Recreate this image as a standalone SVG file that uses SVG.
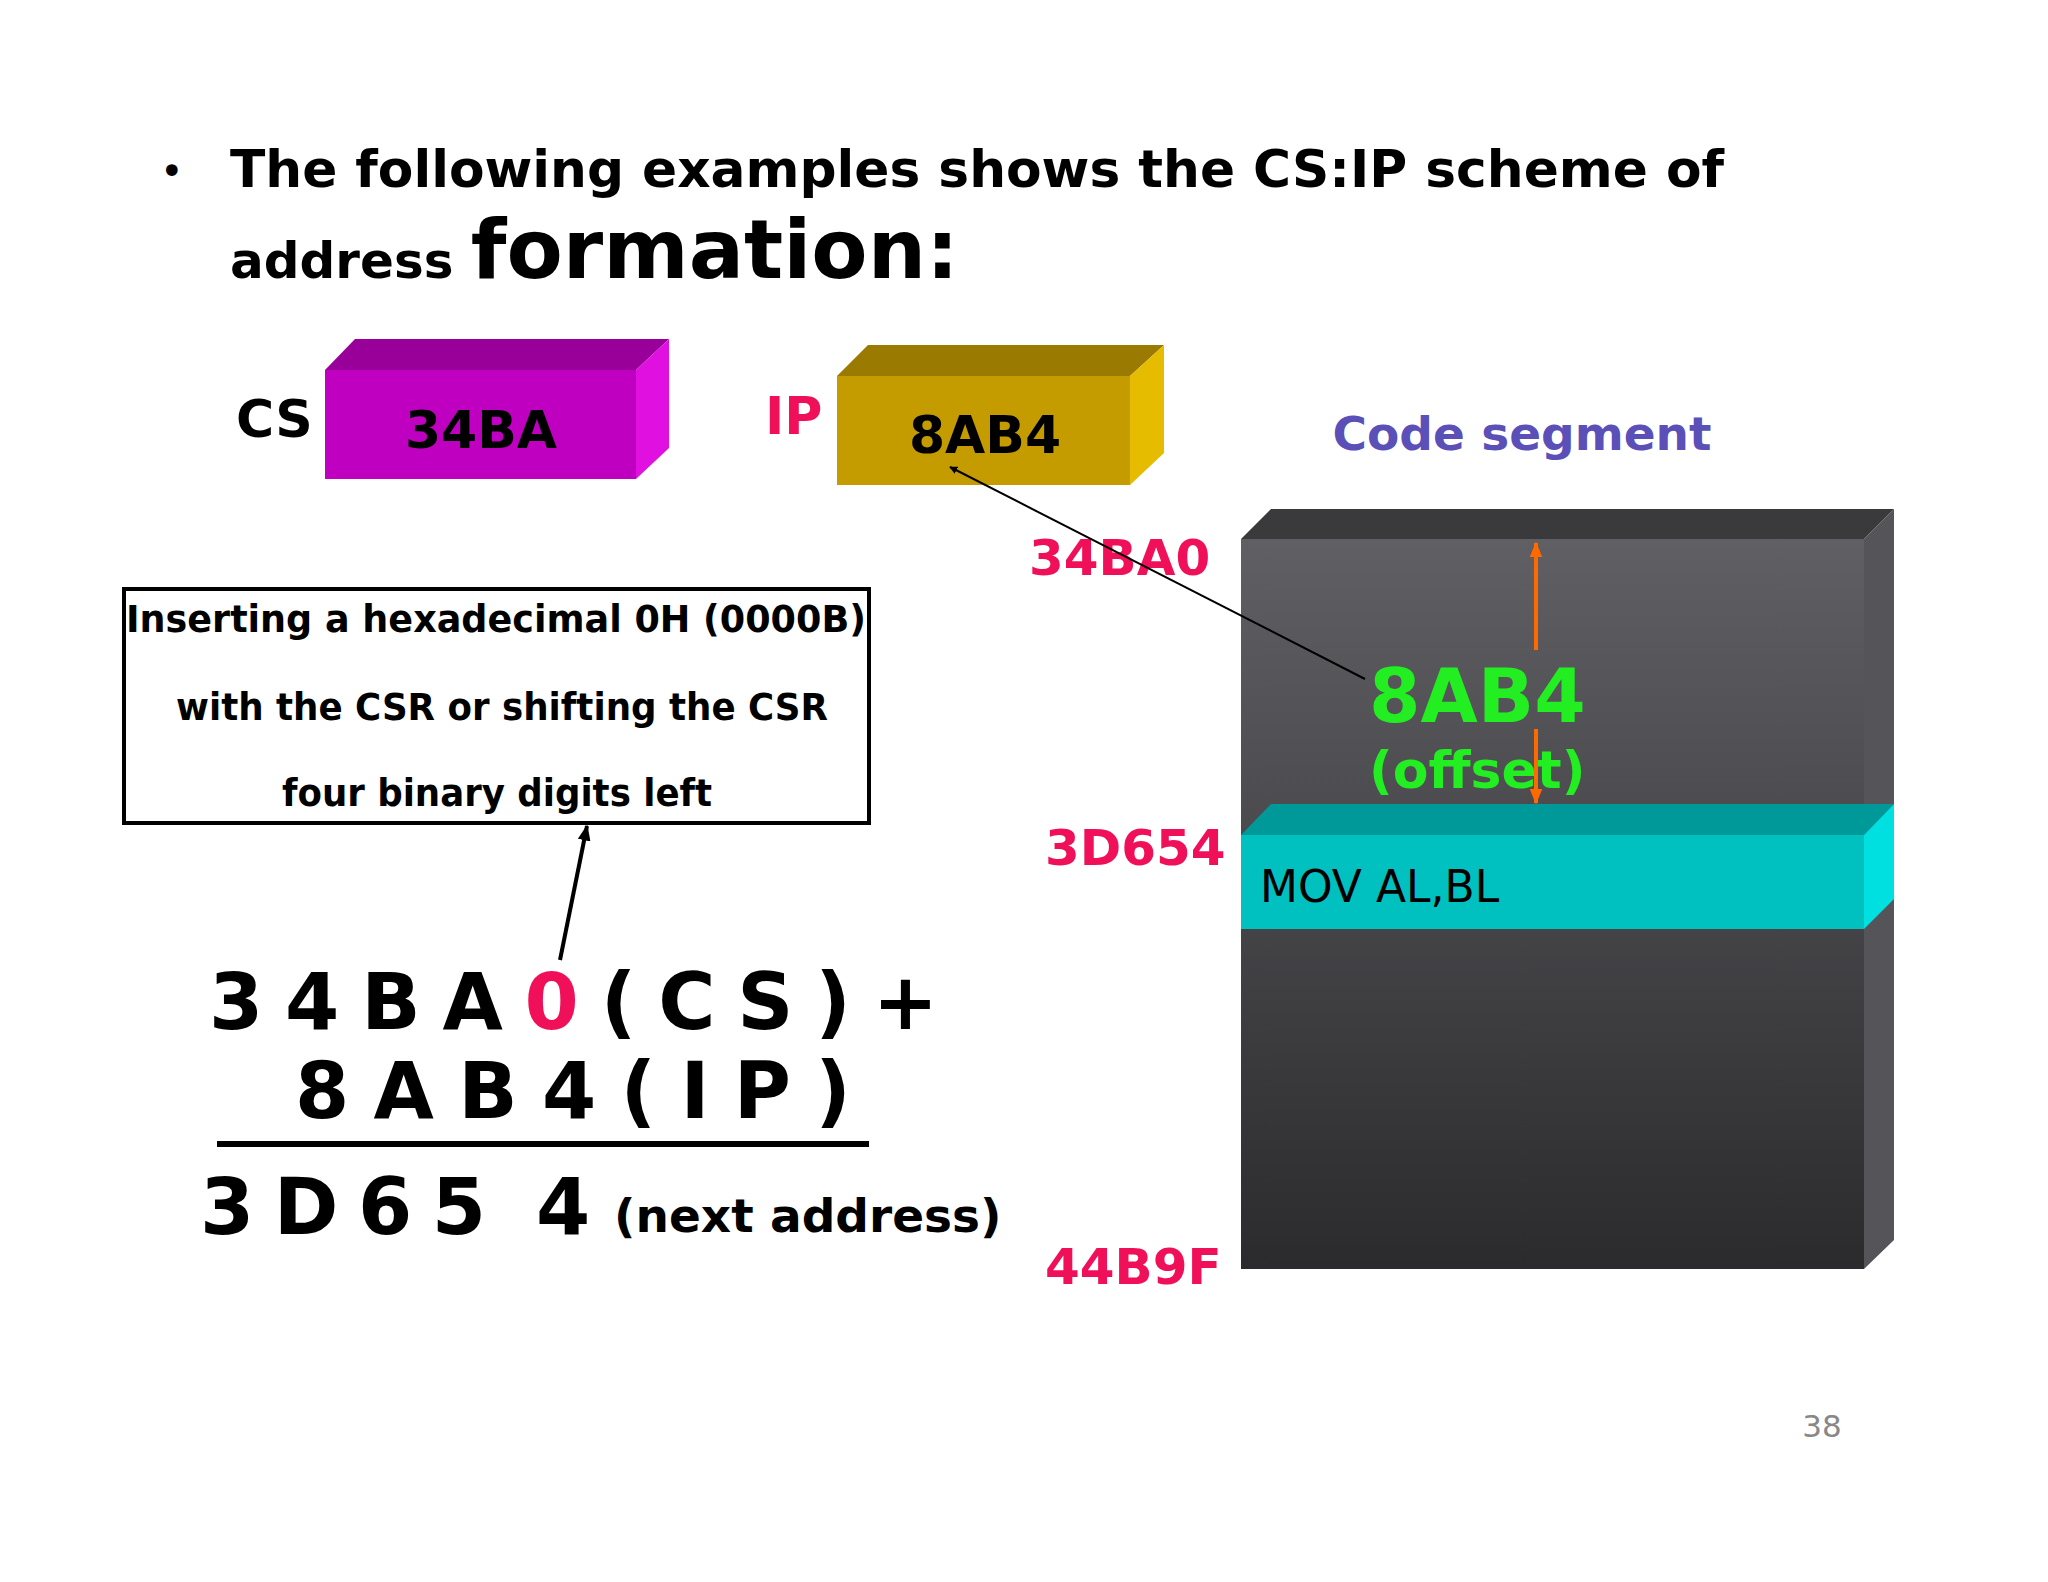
<svg xmlns="http://www.w3.org/2000/svg" width="2048" height="1582" viewBox="0 0 2048 1582">
<defs>
<style>
text{font-family:"DejaVu Sans","Liberation Sans",sans-serif;font-weight:bold}
.red{fill:#F0105A}
.eq{font-size:78px}
.box{font-size:37px}
</style>
<linearGradient id="g" x1="0" y1="0" x2="0" y2="1">
<stop offset="0" stop-color="#605f63"/><stop offset="1" stop-color="#2b2a2d"/>
</linearGradient>
<marker id="ah" viewBox="0 0 10 10" refX="9" refY="5" markerWidth="8" markerHeight="8" orient="auto-start-reverse" markerUnits="userSpaceOnUse"><path d="M0,0L10,5L0,10z" fill="#000"/></marker>
<marker id="ah2" viewBox="0 0 10 10" refX="9" refY="5" markerWidth="16" markerHeight="16" orient="auto" markerUnits="userSpaceOnUse"><path d="M0,1L10,5L0,9z" fill="#000"/></marker>
<marker id="ao" viewBox="0 0 10 10" refX="9" refY="5" markerWidth="16" markerHeight="16" orient="auto" markerUnits="userSpaceOnUse"><path d="M0,1L10,5L0,9z" fill="#FF6A00"/></marker>
</defs>
<rect width="2048" height="1582" fill="#fff"/>
<g id="title">
<text x="160" y="185" style="font-size:40px;font-weight:normal">•</text>
<text x="230" y="187" style="font-size:52px" textLength="1494" lengthAdjust="spacingAndGlyphs">The following examples shows the CS:IP scheme of</text>
<text x="230" y="278" style="font-size:50px">address <tspan style="font-size:82px">formation:</tspan></text>
</g>
<g id="cs">
<polygon points="325,370 355,339 669,339 636,370" fill="#990099"/>
<polygon points="636,370 669,339 669,448 636,479" fill="#E010E0"/>
<rect x="325" y="370" width="311" height="109" fill="#C000C0"/>
<text x="236" y="437" style="font-size:52px">CS</text>
<text x="481" y="448" style="font-size:52px" text-anchor="middle">34BA</text>
</g>
<g id="ip">
<polygon points="837,376 868,345 1164,345 1130,376" fill="#9A7A00"/>
<polygon points="1130,376 1164,345 1164,453 1130,485" fill="#E6BC00"/>
<rect x="837" y="376" width="293" height="109" fill="#C49C00"/>
<text x="765" y="434" class="red" style="font-size:52px">IP</text>
<text x="985" y="453" style="font-size:52px" text-anchor="middle">8AB4</text>
</g>
<g id="segment">
<text x="1522" y="450" style="font-size:47px;fill:#5B4FB8" text-anchor="middle">Code segment</text>
<polygon points="1241,539 1271,509 1894,509 1864,539" fill="#3a393c"/>
<polygon points="1864,539 1894,509 1894,1240 1864,1269" fill="#555458"/>
<rect x="1241" y="539" width="623" height="730" fill="url(#g)"/>
<polygon points="1241,835 1271,804 1894,804 1864,835" fill="#009999"/>
<polygon points="1864,835 1894,804 1894,899 1864,929" fill="#00E0E0"/>
<rect x="1241" y="835" width="623" height="94" fill="#00C0C0"/>
<text x="1260" y="902" style="font-size:44px;font-weight:normal">MOV AL,BL</text>
<text x="1029" y="575" class="red" style="font-size:50px">34BA0</text>
<text x="1045" y="865" class="red" style="font-size:50px">3D654</text>
<text x="1045" y="1284" class="red" style="font-size:50px">44B9F</text>
<text x="1369" y="722" style="font-size:74px;fill:#22EE22">8AB4</text>
<text x="1369" y="788" style="font-size:52px;fill:#22EE22">(offset)</text>
</g>
<g id="calcbox">
<rect x="124" y="589" width="745" height="234" fill="none" stroke="#000" stroke-width="4"/>
<text class="box" x="126" y="632" textLength="740" lengthAdjust="spacingAndGlyphs">Inserting a hexadecimal 0H (0000B)</text>
<text class="box" x="176" y="720" textLength="652" lengthAdjust="spacingAndGlyphs">with the CSR or shifting the CSR</text>
<text class="box" x="282" y="806" textLength="430" lengthAdjust="spacingAndGlyphs">four binary digits left</text>
</g>
<g id="equation">
<text class="eq" x="209" y="1029" textLength="729" lengthAdjust="spacing">3 4 B A <tspan class="red">0</tspan> ( C S ) +</text>
<text class="eq" x="295" y="1118" textLength="556" lengthAdjust="spacing">8 A B 4 ( I P )</text>
<line x1="217" y1="1144" x2="869" y2="1144" stroke="#000" stroke-width="6"/>
<text class="eq" x="200" y="1234" textLength="286" lengthAdjust="spacing">3 D 6 5</text>
<text class="eq" x="536" y="1234">4</text>
<text x="614" y="1232" style="font-size:47px">(next address)</text>
</g>
<g id="connectors">
<line x1="1365" y1="679" x2="950" y2="467" stroke="#000" stroke-width="2" marker-end="url(#ah)"/>
<line x1="560" y1="960" x2="587" y2="826" stroke="#000" stroke-width="4" marker-end="url(#ah2)"/>
<line x1="1536" y1="650" x2="1536" y2="543" stroke="#FF6A00" stroke-width="4" marker-end="url(#ao)"/>
<line x1="1536" y1="729" x2="1536" y2="803" stroke="#FF6A00" stroke-width="4" marker-end="url(#ao)"/>
</g>
<text x="1822" y="1437" style="font-size:31px;font-weight:normal;fill:#888" text-anchor="middle">38</text>
</svg>
